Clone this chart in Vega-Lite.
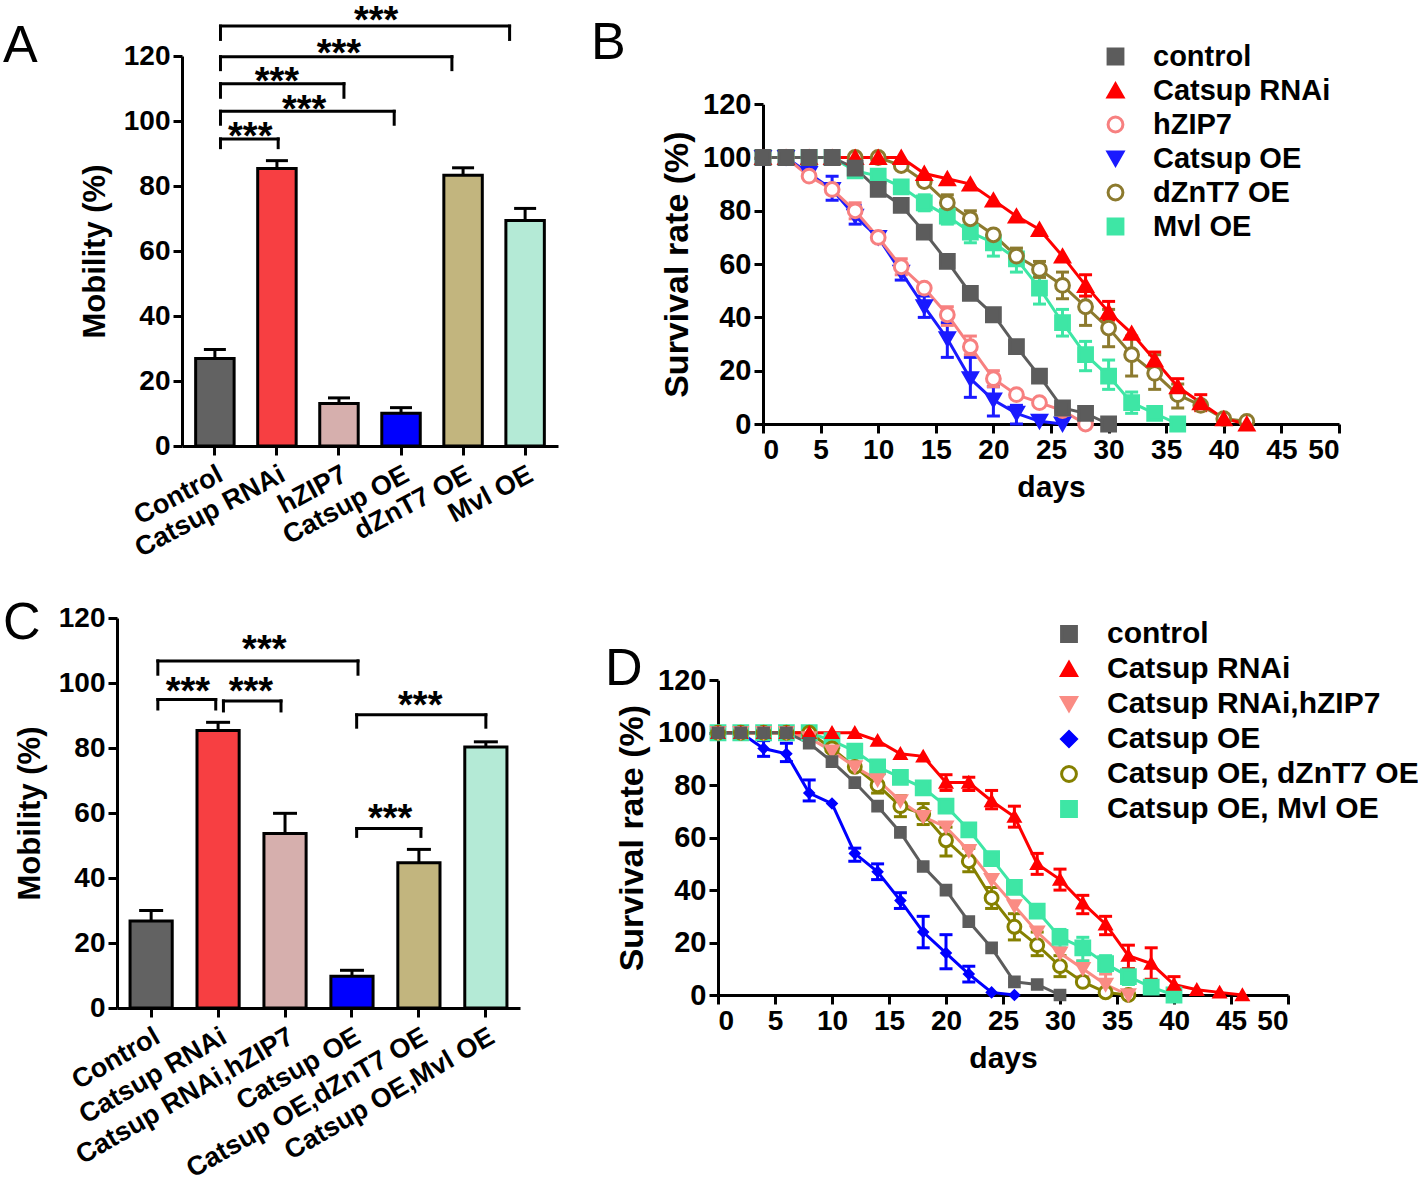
{
  "$schema": "https://vega.github.io/schema/vega-lite/v6.json",
  "padding": {"left": 3, "top": 2, "right": 0, "bottom": 0},
  "background": "white",
  "config": {
    "view": {"stroke": null},
    "font": "Liberation Sans",
    "axis": {"domainColor": "#000", "domainWidth": 3, "tickColor": "#000", "tickWidth": 3, "tickSize": 9, "labelColor": "#000", "labelFontWeight": "bold", "titleColor": "#000", "titleFontWeight": "bold", "grid": false, "labelFont": "Liberation Sans", "titleFont": "Liberation Sans", "labelLimit": 600, "labelPadding": 3},
    "title": {"fontSize": 52, "fontWeight": "normal", "anchor": "start", "frame": "group", "color": "#000", "font": "Liberation Sans", "offset": 0},
    "legend": {"labelFontSize": 29, "labelFontWeight": "bold", "labelColor": "#000", "labelFont": "Liberation Sans", "symbolStrokeWidth": 3, "symbolSize": 220, "rowPadding": 4, "labelLimit": 600, "labelOffset": 23, "padding": 0}
  },
  "resolve": {
    "scale": {"color": "independent", "fill": "independent", "stroke": "independent", "shape": "independent", "size": "independent"},
    "legend": {"color": "independent", "fill": "independent", "stroke": "independent", "shape": "independent", "size": "independent"}
  },
  "datasets": {
    "barsA": [
      {"g": "Control", "m": 26.9, "hi": 29.7},
      {"g": "Catsup RNAi", "m": 85.4, "hi": 87.8},
      {"g": "hZIP7", "m": 13.1, "hi": 14.8},
      {"g": "Catsup OE", "m": 10.1, "hi": 11.8},
      {"g": "dZnT7 OE", "m": 83.3, "hi": 85.6},
      {"g": "Mvl OE", "m": 69.4, "hi": 73.1}
    ],
    "brA": [
      {"x1": 0.09, "x2": 4.75, "h": 129.2, "low": 125.1, "xm": 2.6, "ys": 133.6},
      {"x1": 0.09, "x2": 3.82, "h": 119.8, "low": 115.8, "xm": 2.0, "ys": 123.5},
      {"x1": 0.09, "x2": 2.08, "h": 111.5, "low": 107.3, "xm": 1.0, "ys": 114.7},
      {"x1": 0.09, "x2": 2.89, "h": 103.0, "low": 99.0, "xm": 1.44, "ys": 106.2},
      {"x1": 0.09, "x2": 1.02, "h": 94.5, "low": 91.8, "xm": 0.57, "ys": 97.9}
    ],
    "barsC": [
      {"g": "Control", "m": 26.8, "hi": 30.0},
      {"g": "Catsup RNAi", "m": 85.4, "hi": 87.9},
      {"g": "Catsup RNAi,hZIP7", "m": 53.7, "hi": 59.9},
      {"g": "Catsup OE", "m": 9.8, "hi": 11.6},
      {"g": "Catsup OE,dZnT7 OE", "m": 44.7, "hi": 48.8},
      {"g": "Catsup OE,Mvl OE", "m": 80.3, "hi": 81.9}
    ],
    "brC": [
      {"x1": 0.10, "x2": 3.09, "h": 106.8, "low": 102.7, "xm": 1.69, "ys": 113.0},
      {"x1": 0.10, "x2": 0.965, "h": 94.9, "low": 92.0, "xm": 0.55, "ys": 100.1},
      {"x1": 1.08, "x2": 1.94, "h": 94.5, "low": 91.4, "xm": 1.49, "ys": 100.1},
      {"x1": 3.07, "x2": 5.0, "h": 90.2, "low": 86.4, "xm": 4.02, "ys": 95.7},
      {"x1": 3.07, "x2": 4.03, "h": 55.2, "low": 52.8, "xm": 3.57, "ys": 61.0}
    ],
    "survB": [
      {"s": "Mvl OE", "d": 0, "v": 100}, {"s": "Mvl OE", "d": 2, "v": 100}, {"s": "Mvl OE", "d": 4, "v": 100}, {"s": "Mvl OE", "d": 6, "v": 100},
      {"s": "Mvl OE", "d": 8, "v": 95}, {"s": "Mvl OE", "d": 10, "v": 93}, {"s": "Mvl OE", "d": 12, "v": 89},
      {"s": "Mvl OE", "d": 14, "v": 83, "lo": 80, "hi": 86}, {"s": "Mvl OE", "d": 16, "v": 78, "lo": 75, "hi": 82},
      {"s": "Mvl OE", "d": 18, "v": 72, "lo": 68, "hi": 76}, {"s": "Mvl OE", "d": 20, "v": 68, "lo": 63, "hi": 72},
      {"s": "Mvl OE", "d": 22, "v": 62, "lo": 57, "hi": 65}, {"s": "Mvl OE", "d": 24, "v": 51, "lo": 45, "hi": 56},
      {"s": "Mvl OE", "d": 26, "v": 38, "lo": 33, "hi": 43}, {"s": "Mvl OE", "d": 28, "v": 26, "lo": 20, "hi": 31},
      {"s": "Mvl OE", "d": 30, "v": 18, "lo": 13, "hi": 24}, {"s": "Mvl OE", "d": 32, "v": 8, "lo": 4, "hi": 12},
      {"s": "Mvl OE", "d": 34, "v": 4}, {"s": "Mvl OE", "d": 36, "v": 0},
      {"s": "dZnT7 OE", "d": 0, "v": 100}, {"s": "dZnT7 OE", "d": 2, "v": 100}, {"s": "dZnT7 OE", "d": 4, "v": 100}, {"s": "dZnT7 OE", "d": 6, "v": 100},
      {"s": "dZnT7 OE", "d": 8, "v": 100}, {"s": "dZnT7 OE", "d": 10, "v": 100}, {"s": "dZnT7 OE", "d": 12, "v": 97}, {"s": "dZnT7 OE", "d": 14, "v": 91},
      {"s": "dZnT7 OE", "d": 16, "v": 83, "lo": 80, "hi": 86}, {"s": "dZnT7 OE", "d": 18, "v": 77, "lo": 74, "hi": 80},
      {"s": "dZnT7 OE", "d": 20, "v": 71}, {"s": "dZnT7 OE", "d": 22, "v": 63, "lo": 60, "hi": 66},
      {"s": "dZnT7 OE", "d": 24, "v": 58, "lo": 55, "hi": 61}, {"s": "dZnT7 OE", "d": 26, "v": 52, "lo": 47, "hi": 57},
      {"s": "dZnT7 OE", "d": 28, "v": 44, "lo": 37, "hi": 50}, {"s": "dZnT7 OE", "d": 30, "v": 36, "lo": 29, "hi": 43},
      {"s": "dZnT7 OE", "d": 32, "v": 26, "lo": 18, "hi": 33}, {"s": "dZnT7 OE", "d": 34, "v": 19, "lo": 13, "hi": 26},
      {"s": "dZnT7 OE", "d": 36, "v": 11, "lo": 6, "hi": 15}, {"s": "dZnT7 OE", "d": 38, "v": 7},
      {"s": "dZnT7 OE", "d": 40, "v": 2}, {"s": "dZnT7 OE", "d": 42, "v": 1},
      {"s": "Catsup OE", "d": 0, "v": 100}, {"s": "Catsup OE", "d": 2, "v": 100}, {"s": "Catsup OE", "d": 4, "v": 94},
      {"s": "Catsup OE", "d": 6, "v": 88, "lo": 84, "hi": 93}, {"s": "Catsup OE", "d": 8, "v": 78, "lo": 75, "hi": 82},
      {"s": "Catsup OE", "d": 10, "v": 70}, {"s": "Catsup OE", "d": 12, "v": 57, "lo": 54, "hi": 60},
      {"s": "Catsup OE", "d": 14, "v": 44, "lo": 40, "hi": 48}, {"s": "Catsup OE", "d": 16, "v": 32, "lo": 25, "hi": 38},
      {"s": "Catsup OE", "d": 18, "v": 17, "lo": 10, "hi": 25}, {"s": "Catsup OE", "d": 20, "v": 9, "lo": 3, "hi": 14},
      {"s": "Catsup OE", "d": 22, "v": 4, "lo": 0, "hi": 7}, {"s": "Catsup OE", "d": 24, "v": 1}, {"s": "Catsup OE", "d": 26, "v": 0},
      {"s": "hZIP7", "d": 0, "v": 100}, {"s": "hZIP7", "d": 2, "v": 100}, {"s": "hZIP7", "d": 4, "v": 93}, {"s": "hZIP7", "d": 6, "v": 88},
      {"s": "hZIP7", "d": 8, "v": 80, "lo": 77, "hi": 83}, {"s": "hZIP7", "d": 10, "v": 70}, {"s": "hZIP7", "d": 12, "v": 59, "lo": 56, "hi": 62},
      {"s": "hZIP7", "d": 14, "v": 51}, {"s": "hZIP7", "d": 16, "v": 41, "lo": 37, "hi": 44}, {"s": "hZIP7", "d": 18, "v": 29, "lo": 26, "hi": 33},
      {"s": "hZIP7", "d": 20, "v": 17, "lo": 14, "hi": 20}, {"s": "hZIP7", "d": 22, "v": 11}, {"s": "hZIP7", "d": 24, "v": 8},
      {"s": "hZIP7", "d": 26, "v": 5}, {"s": "hZIP7", "d": 28, "v": 0},
      {"s": "Catsup RNAi", "d": 0, "v": 100}, {"s": "Catsup RNAi", "d": 2, "v": 100}, {"s": "Catsup RNAi", "d": 4, "v": 100}, {"s": "Catsup RNAi", "d": 6, "v": 100},
      {"s": "Catsup RNAi", "d": 8, "v": 100}, {"s": "Catsup RNAi", "d": 10, "v": 100}, {"s": "Catsup RNAi", "d": 12, "v": 100}, {"s": "Catsup RNAi", "d": 14, "v": 94},
      {"s": "Catsup RNAi", "d": 16, "v": 92}, {"s": "Catsup RNAi", "d": 18, "v": 90}, {"s": "Catsup RNAi", "d": 20, "v": 84}, {"s": "Catsup RNAi", "d": 22, "v": 78},
      {"s": "Catsup RNAi", "d": 24, "v": 73}, {"s": "Catsup RNAi", "d": 26, "v": 63}, {"s": "Catsup RNAi", "d": 28, "v": 52, "lo": 48, "hi": 56},
      {"s": "Catsup RNAi", "d": 30, "v": 42, "lo": 39, "hi": 46}, {"s": "Catsup RNAi", "d": 32, "v": 34},
      {"s": "Catsup RNAi", "d": 34, "v": 24, "lo": 21, "hi": 27}, {"s": "Catsup RNAi", "d": 36, "v": 14, "lo": 11, "hi": 17},
      {"s": "Catsup RNAi", "d": 38, "v": 8, "lo": 5, "hi": 11}, {"s": "Catsup RNAi", "d": 40, "v": 2}, {"s": "Catsup RNAi", "d": 42, "v": 0},
      {"s": "control", "d": 0, "v": 100}, {"s": "control", "d": 2, "v": 100}, {"s": "control", "d": 4, "v": 100}, {"s": "control", "d": 6, "v": 100},
      {"s": "control", "d": 8, "v": 96}, {"s": "control", "d": 10, "v": 88}, {"s": "control", "d": 12, "v": 82}, {"s": "control", "d": 14, "v": 72},
      {"s": "control", "d": 16, "v": 61}, {"s": "control", "d": 18, "v": 49}, {"s": "control", "d": 20, "v": 41}, {"s": "control", "d": 22, "v": 29},
      {"s": "control", "d": 24, "v": 18}, {"s": "control", "d": 26, "v": 6}, {"s": "control", "d": 28, "v": 4}, {"s": "control", "d": 30, "v": 0}
    ],
    "survD": [
      {"s": "Catsup OE, Mvl OE", "d": 0, "v": 100}, {"s": "Catsup OE, Mvl OE", "d": 2, "v": 100}, {"s": "Catsup OE, Mvl OE", "d": 4, "v": 100},
      {"s": "Catsup OE, Mvl OE", "d": 6, "v": 100}, {"s": "Catsup OE, Mvl OE", "d": 8, "v": 100}, {"s": "Catsup OE, Mvl OE", "d": 10, "v": 97},
      {"s": "Catsup OE, Mvl OE", "d": 12, "v": 93}, {"s": "Catsup OE, Mvl OE", "d": 14, "v": 87}, {"s": "Catsup OE, Mvl OE", "d": 16, "v": 83},
      {"s": "Catsup OE, Mvl OE", "d": 18, "v": 79}, {"s": "Catsup OE, Mvl OE", "d": 20, "v": 72}, {"s": "Catsup OE, Mvl OE", "d": 22, "v": 63},
      {"s": "Catsup OE, Mvl OE", "d": 24, "v": 52}, {"s": "Catsup OE, Mvl OE", "d": 26, "v": 41}, {"s": "Catsup OE, Mvl OE", "d": 28, "v": 32},
      {"s": "Catsup OE, Mvl OE", "d": 30, "v": 22, "lo": 18, "hi": 25}, {"s": "Catsup OE, Mvl OE", "d": 32, "v": 18, "lo": 13, "hi": 22},
      {"s": "Catsup OE, Mvl OE", "d": 34, "v": 12, "lo": 9, "hi": 15}, {"s": "Catsup OE, Mvl OE", "d": 36, "v": 7, "lo": 4, "hi": 10},
      {"s": "Catsup OE, Mvl OE", "d": 38, "v": 3}, {"s": "Catsup OE, Mvl OE", "d": 40, "v": 0},
      {"s": "Catsup OE, dZnT7 OE", "d": 0, "v": 100}, {"s": "Catsup OE, dZnT7 OE", "d": 2, "v": 100}, {"s": "Catsup OE, dZnT7 OE", "d": 4, "v": 100},
      {"s": "Catsup OE, dZnT7 OE", "d": 6, "v": 100}, {"s": "Catsup OE, dZnT7 OE", "d": 8, "v": 100}, {"s": "Catsup OE, dZnT7 OE", "d": 10, "v": 94},
      {"s": "Catsup OE, dZnT7 OE", "d": 12, "v": 87}, {"s": "Catsup OE, dZnT7 OE", "d": 14, "v": 80, "lo": 77, "hi": 84},
      {"s": "Catsup OE, dZnT7 OE", "d": 16, "v": 72, "lo": 68, "hi": 76}, {"s": "Catsup OE, dZnT7 OE", "d": 18, "v": 69, "lo": 65, "hi": 73},
      {"s": "Catsup OE, dZnT7 OE", "d": 20, "v": 59, "lo": 53, "hi": 64}, {"s": "Catsup OE, dZnT7 OE", "d": 22, "v": 51, "lo": 47, "hi": 56},
      {"s": "Catsup OE, dZnT7 OE", "d": 24, "v": 37, "lo": 33, "hi": 41}, {"s": "Catsup OE, dZnT7 OE", "d": 26, "v": 26, "lo": 21, "hi": 31},
      {"s": "Catsup OE, dZnT7 OE", "d": 28, "v": 19, "lo": 15, "hi": 24}, {"s": "Catsup OE, dZnT7 OE", "d": 30, "v": 11, "lo": 7, "hi": 15},
      {"s": "Catsup OE, dZnT7 OE", "d": 32, "v": 5}, {"s": "Catsup OE, dZnT7 OE", "d": 34, "v": 1}, {"s": "Catsup OE, dZnT7 OE", "d": 36, "v": 0},
      {"s": "Catsup OE", "d": 0, "v": 100}, {"s": "Catsup OE", "d": 2, "v": 100},
      {"s": "Catsup OE", "d": 4, "v": 94, "lo": 91, "hi": 97}, {"s": "Catsup OE", "d": 6, "v": 92, "lo": 89, "hi": 96},
      {"s": "Catsup OE", "d": 8, "v": 77, "lo": 74, "hi": 82}, {"s": "Catsup OE", "d": 10, "v": 73},
      {"s": "Catsup OE", "d": 12, "v": 54, "lo": 51, "hi": 56}, {"s": "Catsup OE", "d": 14, "v": 47, "lo": 44, "hi": 50},
      {"s": "Catsup OE", "d": 16, "v": 36, "lo": 33, "hi": 39}, {"s": "Catsup OE", "d": 18, "v": 24, "lo": 18, "hi": 30},
      {"s": "Catsup OE", "d": 20, "v": 16, "lo": 10, "hi": 23}, {"s": "Catsup OE", "d": 22, "v": 8, "lo": 5, "hi": 11},
      {"s": "Catsup OE", "d": 24, "v": 1}, {"s": "Catsup OE", "d": 26, "v": 0},
      {"s": "Catsup RNAi,hZIP7", "d": 0, "v": 100}, {"s": "Catsup RNAi,hZIP7", "d": 2, "v": 100}, {"s": "Catsup RNAi,hZIP7", "d": 4, "v": 100},
      {"s": "Catsup RNAi,hZIP7", "d": 6, "v": 100}, {"s": "Catsup RNAi,hZIP7", "d": 8, "v": 98}, {"s": "Catsup RNAi,hZIP7", "d": 10, "v": 93},
      {"s": "Catsup RNAi,hZIP7", "d": 12, "v": 87}, {"s": "Catsup RNAi,hZIP7", "d": 14, "v": 82}, {"s": "Catsup RNAi,hZIP7", "d": 16, "v": 74},
      {"s": "Catsup RNAi,hZIP7", "d": 18, "v": 68}, {"s": "Catsup RNAi,hZIP7", "d": 20, "v": 64}, {"s": "Catsup RNAi,hZIP7", "d": 22, "v": 55},
      {"s": "Catsup RNAi,hZIP7", "d": 24, "v": 44}, {"s": "Catsup RNAi,hZIP7", "d": 26, "v": 34}, {"s": "Catsup RNAi,hZIP7", "d": 28, "v": 24},
      {"s": "Catsup RNAi,hZIP7", "d": 30, "v": 16}, {"s": "Catsup RNAi,hZIP7", "d": 32, "v": 10, "lo": 7, "hi": 13},
      {"s": "Catsup RNAi,hZIP7", "d": 34, "v": 4, "lo": 0, "hi": 8}, {"s": "Catsup RNAi,hZIP7", "d": 36, "v": 0},
      {"s": "Catsup RNAi", "d": 0, "v": 100}, {"s": "Catsup RNAi", "d": 2, "v": 100}, {"s": "Catsup RNAi", "d": 4, "v": 100}, {"s": "Catsup RNAi", "d": 6, "v": 100},
      {"s": "Catsup RNAi", "d": 8, "v": 100}, {"s": "Catsup RNAi", "d": 10, "v": 100}, {"s": "Catsup RNAi", "d": 12, "v": 100}, {"s": "Catsup RNAi", "d": 14, "v": 97},
      {"s": "Catsup RNAi", "d": 16, "v": 92}, {"s": "Catsup RNAi", "d": 18, "v": 91},
      {"s": "Catsup RNAi", "d": 20, "v": 81, "lo": 78, "hi": 84}, {"s": "Catsup RNAi", "d": 22, "v": 81, "lo": 78, "hi": 83},
      {"s": "Catsup RNAi", "d": 24, "v": 74, "lo": 71, "hi": 78}, {"s": "Catsup RNAi", "d": 26, "v": 68, "lo": 64, "hi": 72},
      {"s": "Catsup RNAi", "d": 28, "v": 50, "lo": 46, "hi": 54}, {"s": "Catsup RNAi", "d": 30, "v": 44, "lo": 40, "hi": 48},
      {"s": "Catsup RNAi", "d": 32, "v": 35, "lo": 31, "hi": 38}, {"s": "Catsup RNAi", "d": 34, "v": 27, "lo": 23, "hi": 30},
      {"s": "Catsup RNAi", "d": 36, "v": 15, "lo": 10, "hi": 19}, {"s": "Catsup RNAi", "d": 38, "v": 12, "lo": 6, "hi": 18},
      {"s": "Catsup RNAi", "d": 40, "v": 4, "lo": 0, "hi": 7}, {"s": "Catsup RNAi", "d": 42, "v": 2}, {"s": "Catsup RNAi", "d": 44, "v": 1}, {"s": "Catsup RNAi", "d": 46, "v": 0},
      {"s": "control", "d": 0, "v": 100}, {"s": "control", "d": 2, "v": 100}, {"s": "control", "d": 4, "v": 100}, {"s": "control", "d": 6, "v": 100},
      {"s": "control", "d": 8, "v": 96}, {"s": "control", "d": 10, "v": 89}, {"s": "control", "d": 12, "v": 81}, {"s": "control", "d": 14, "v": 72},
      {"s": "control", "d": 16, "v": 62}, {"s": "control", "d": 18, "v": 49}, {"s": "control", "d": 20, "v": 40}, {"s": "control", "d": 22, "v": 28},
      {"s": "control", "d": 24, "v": 18}, {"s": "control", "d": 26, "v": 5}, {"s": "control", "d": 28, "v": 4}, {"s": "control", "d": 30, "v": 0}
    ]
  },
  "vconcat": [
    {
      "spacing": 33,
      "resolve": {
        "scale": {"color": "independent", "fill": "independent", "stroke": "independent", "shape": "independent", "size": "independent"},
        "legend": {"color": "independent", "fill": "independent", "stroke": "independent", "shape": "independent", "size": "independent"}
      },
      "hconcat": [
        {
          "width": 441, "height": 390,
          "title": {"text": "A", "dx": -114, "dy": 74},
          "layer": [
            {
              "data": {"name": "barsA"},
              "encoding": {
                "x": {"field": "g", "type": "nominal", "sort": null, "title": null,
                      "scale": {"paddingInner": 0.38, "paddingOuter": 0.22, "range": [65, 441]},
                      "axis": {"labelAngle": -28, "labelAlign": "right", "labelBaseline": "top", "labelFontSize": 27, "labelPadding": 6}}
              },
              "layer": [
                {"mark": {"type": "bar", "stroke": "#000", "strokeWidth": 3},
                 "encoding": {
                   "y": {"field": "m", "type": "quantitative", "scale": {"domain": [0, 120], "nice": false},
                         "axis": {"values": [0, 20, 40, 60, 80, 100, 120], "title": "Mobility (%)", "titleFontSize": 31, "labelFontSize": 28, "titlePadding": 12, "offset": -65}},
                   "fill": {"field": "g", "type": "nominal", "sort": null, "legend": null,
                            "scale": {"domain": ["Control", "Catsup RNAi", "hZIP7", "Catsup OE", "dZnT7 OE", "Mvl OE"],
                                      "range": ["#626262", "#f73f42", "#d6afad", "#0000fe", "#c2b57e", "#b4ead6"]}}
                 }},
                {"mark": {"type": "rule", "stroke": "#000", "strokeWidth": 3},
                 "encoding": {"y": {"field": "m", "type": "quantitative", "axis": {"values": [0, 20, 40, 60, 80, 100, 120], "title": "Mobility (%)", "titleFontSize": 31, "labelFontSize": 28, "titlePadding": 12, "offset": -65}}, "y2": {"field": "hi"}}},
                {"mark": {"type": "tick", "color": "#000", "thickness": 3, "size": 22, "orient": "horizontal", "opacity": 1},
                 "encoding": {"y": {"field": "hi", "type": "quantitative", "axis": {"values": [0, 20, 40, 60, 80, 100, 120], "title": "Mobility (%)", "titleFontSize": 31, "labelFontSize": 28, "titlePadding": 12, "offset": -65}}}}
              ]
            },
            {
              "data": {"name": "brA"},
              "layer": [
                {"mark": {"type": "rule", "stroke": "#000", "strokeWidth": 3, "strokeCap": "square"},
                 "encoding": {"x": {"field": "x1", "type": "quantitative", "scale": {"domain": [-0.53, 5.53], "nice": false, "zero": false, "range": [65, 441]}, "axis": null},
                              "x2": {"field": "x2"}, "y": {"field": "h", "type": "quantitative", "axis": {"values": [0, 20, 40, 60, 80, 100, 120], "title": "Mobility (%)", "titleFontSize": 31, "labelFontSize": 28, "titlePadding": 12, "offset": -65}}}},
                {"mark": {"type": "rule", "stroke": "#000", "strokeWidth": 3, "strokeCap": "square"},
                 "encoding": {"x": {"field": "x1", "type": "quantitative", "axis": null}, "y": {"field": "low", "type": "quantitative", "axis": {"values": [0, 20, 40, 60, 80, 100, 120], "title": "Mobility (%)", "titleFontSize": 31, "labelFontSize": 28, "titlePadding": 12, "offset": -65}}, "y2": {"field": "h"}}},
                {"mark": {"type": "rule", "stroke": "#000", "strokeWidth": 3, "strokeCap": "square"},
                 "encoding": {"x": {"field": "x2", "type": "quantitative", "axis": null}, "y": {"field": "low", "type": "quantitative", "axis": {"values": [0, 20, 40, 60, 80, 100, 120], "title": "Mobility (%)", "titleFontSize": 31, "labelFontSize": 28, "titlePadding": 12, "offset": -65}}, "y2": {"field": "h"}}},
                {"mark": {"type": "text", "fontSize": 38, "fontWeight": "bold", "baseline": "alphabetic", "dy": 21, "color": "#000"},
                 "encoding": {"x": {"field": "xm", "type": "quantitative", "axis": null}, "y": {"field": "ys", "type": "quantitative", "axis": {"values": [0, 20, 40, 60, 80, 100, 120], "title": "Mobility (%)", "titleFontSize": 31, "labelFontSize": 28, "titlePadding": 12, "offset": -65}}, "text": {"value": "***"}}}
              ]
            }
          ],
          "resolve": {"scale": {"x": "independent"}}
        },
        {
          "width": 576, "height": 368,
          "title": {"text": "B", "dx": -172, "dy": 32},
          "data": {"name": "survB"},
          "encoding": {
            "x": {"field": "d", "type": "quantitative", "scale": {"domain": [0, 50], "nice": false},
                  "axis": {"values": [0, 5, 10, 15, 20, 25, 30, 35, 40, 45, 50], "title": "days", "titleFontSize": 30, "labelFontSize": 28, "titlePadding": 8}}
          },
          "layer": [
            {"mark": {"type": "rule", "strokeWidth": 3},
             "encoding": {"y": {"field": "lo", "type": "quantitative", "scale": {"domain": [0, 120], "range": [368, 48.2], "nice": false}, "axis": {"values": [0, 20, 40, 60, 80, 100, 120], "title": "Survival rate (%)", "titleFontSize": 34, "labelFontSize": 29, "titlePadding": 8}}, "y2": {"field": "hi"},
                          "color": {"field": "s", "type": "nominal", "legend": null, "scale": {"domain": ["Mvl OE", "dZnT7 OE", "Catsup OE", "hZIP7", "Catsup RNAi", "control"], "range": ["#3ee6a5", "#8c7a2e", "#1a1aff", "#f78080", "#ff0000", "#5c5c5c"]}}}},
            {"mark": {"type": "tick", "thickness": 3, "size": 13, "orient": "horizontal", "opacity": 1},
             "encoding": {"y": {"field": "hi", "type": "quantitative", "axis": {"values": [0, 20, 40, 60, 80, 100, 120], "title": "Survival rate (%)", "titleFontSize": 34, "labelFontSize": 29, "titlePadding": 8}}, "color": {"field": "s", "type": "nominal", "legend": null}}},
            {"mark": {"type": "tick", "thickness": 3, "size": 13, "orient": "horizontal", "opacity": 1},
             "encoding": {"y": {"field": "lo", "type": "quantitative", "axis": {"values": [0, 20, 40, 60, 80, 100, 120], "title": "Survival rate (%)", "titleFontSize": 34, "labelFontSize": 29, "titlePadding": 8}}, "color": {"field": "s", "type": "nominal", "legend": null}}},
            {"mark": {"type": "line", "strokeWidth": 3},
             "encoding": {"y": {"field": "v", "type": "quantitative", "axis": {"values": [0, 20, 40, 60, 80, 100, 120], "title": "Survival rate (%)", "titleFontSize": 34, "labelFontSize": 29, "titlePadding": 8}},
                          "color": {"field": "s", "type": "nominal", "legend": null}}},
            {"mark": {"type": "point", "strokeWidth": 3, "opacity": 1, "size": 190},
             "encoding": {"y": {"field": "v", "type": "quantitative", "axis": {"values": [0, 20, 40, 60, 80, 100, 120], "title": "Survival rate (%)", "titleFontSize": 34, "labelFontSize": 29, "titlePadding": 8}},
                          "stroke": {"field": "s", "type": "nominal", "title": null,
                                     "scale": {"domain": ["control", "Catsup RNAi", "hZIP7", "Catsup OE", "dZnT7 OE", "Mvl OE"], "range": ["#5c5c5c", "#ff0000", "#f78080", "#1a1aff", "#8c7a2e", "#3ee6a5"]},
                                     "legend": {"orient": "none", "legendX": 338, "legendY": -14}},
                          "fill": {"field": "s", "type": "nominal", "title": null,
                                   "scale": {"domain": ["control", "Catsup RNAi", "hZIP7", "Catsup OE", "dZnT7 OE", "Mvl OE"], "range": ["#5c5c5c", "#ff0000", "#ffffff", "#1a1aff", "#ffffff", "#3ee6a5"]},
                                   "legend": {"orient": "none", "legendX": 338, "legendY": -14}},
                          "shape": {"field": "s", "type": "nominal", "title": null,
                                    "scale": {"domain": ["control", "Catsup RNAi", "hZIP7", "Catsup OE", "dZnT7 OE", "Mvl OE"], "range": ["square", "triangle-up", "circle", "triangle-down", "circle", "square"]},
                                    "legend": {"orient": "none", "legendX": 338, "legendY": -14}}}}
          ]
        }
      ]
    },
    {
      "spacing": 85,
      "resolve": {
        "scale": {"color": "independent", "fill": "independent", "stroke": "independent", "shape": "independent", "size": "independent"},
        "legend": {"color": "independent", "fill": "independent", "stroke": "independent", "shape": "independent", "size": "independent"}
      },
      "hconcat": [
        {
          "width": 403, "height": 390,
          "title": {"text": "C", "dx": -114, "dy": 50},
          "layer": [
            {
              "data": {"name": "barsC"},
              "encoding": {
                "x": {"field": "g", "type": "nominal", "sort": null, "title": null,
                      "scale": {"paddingInner": 0.37, "paddingOuter": 0.195},
                      "axis": {"labelAngle": -30, "labelAlign": "right", "labelBaseline": "top", "labelFontSize": 27, "labelPadding": 6}}
              },
              "layer": [
                {"mark": {"type": "bar", "stroke": "#000", "strokeWidth": 3},
                 "encoding": {
                   "y": {"field": "m", "type": "quantitative", "scale": {"domain": [0, 120], "nice": false},
                         "axis": {"values": [0, 20, 40, 60, 80, 100, 120], "title": "Mobility (%)", "titleFontSize": 31, "labelFontSize": 28, "titlePadding": 12}},
                   "fill": {"field": "g", "type": "nominal", "sort": null, "legend": null,
                            "scale": {"domain": ["Control", "Catsup RNAi", "Catsup RNAi,hZIP7", "Catsup OE", "Catsup OE,dZnT7 OE", "Catsup OE,Mvl OE"],
                                      "range": ["#626262", "#f73f42", "#d6afad", "#0000fe", "#c2b57e", "#b4ead6"]}}
                 }},
                {"mark": {"type": "rule", "stroke": "#000", "strokeWidth": 3},
                 "encoding": {"y": {"field": "m", "type": "quantitative", "axis": {"values": [0, 20, 40, 60, 80, 100, 120], "title": "Mobility (%)", "titleFontSize": 31, "labelFontSize": 28, "titlePadding": 12}}, "y2": {"field": "hi"}}},
                {"mark": {"type": "tick", "color": "#000", "thickness": 3, "size": 24, "orient": "horizontal", "opacity": 1},
                 "encoding": {"y": {"field": "hi", "type": "quantitative", "axis": {"values": [0, 20, 40, 60, 80, 100, 120], "title": "Mobility (%)", "titleFontSize": 31, "labelFontSize": 28, "titlePadding": 12}}}}
              ]
            },
            {
              "data": {"name": "brC"},
              "layer": [
                {"mark": {"type": "rule", "stroke": "#000", "strokeWidth": 3, "strokeCap": "square"},
                 "encoding": {"x": {"field": "x1", "type": "quantitative", "scale": {"domain": [-0.51, 5.51], "nice": false, "zero": false}, "axis": null},
                              "x2": {"field": "x2"}, "y": {"field": "h", "type": "quantitative", "axis": {"values": [0, 20, 40, 60, 80, 100, 120], "title": "Mobility (%)", "titleFontSize": 31, "labelFontSize": 28, "titlePadding": 12}}}},
                {"mark": {"type": "rule", "stroke": "#000", "strokeWidth": 3, "strokeCap": "square"},
                 "encoding": {"x": {"field": "x1", "type": "quantitative", "axis": null}, "y": {"field": "low", "type": "quantitative", "axis": {"values": [0, 20, 40, 60, 80, 100, 120], "title": "Mobility (%)", "titleFontSize": 31, "labelFontSize": 28, "titlePadding": 12}}, "y2": {"field": "h"}}},
                {"mark": {"type": "rule", "stroke": "#000", "strokeWidth": 3, "strokeCap": "square"},
                 "encoding": {"x": {"field": "x2", "type": "quantitative", "axis": null}, "y": {"field": "low", "type": "quantitative", "axis": {"values": [0, 20, 40, 60, 80, 100, 120], "title": "Mobility (%)", "titleFontSize": 31, "labelFontSize": 28, "titlePadding": 12}}, "y2": {"field": "h"}}},
                {"mark": {"type": "text", "fontSize": 38, "fontWeight": "bold", "baseline": "alphabetic", "dy": 21, "color": "#000"},
                 "encoding": {"x": {"field": "xm", "type": "quantitative", "axis": null}, "y": {"field": "ys", "type": "quantitative", "axis": {"values": [0, 20, 40, 60, 80, 100, 120], "title": "Mobility (%)", "titleFontSize": 31, "labelFontSize": 28, "titlePadding": 12}}, "text": {"value": "***"}}}
              ]
            }
          ],
          "resolve": {"scale": {"x": "independent"}}
        },
        {
          "width": 570, "height": 377,
          "title": {"text": "D", "dx": -113, "dy": 82},
          "data": {"name": "survD"},
          "encoding": {
            "x": {"field": "d", "type": "quantitative", "scale": {"domain": [0, 50], "nice": false},
                  "axis": {"values": [0, 5, 10, 15, 20, 25, 30, 35, 40, 45, 50], "title": "days", "titleFontSize": 30, "labelFontSize": 28, "titlePadding": 8}}
          },
          "layer": [
            {"mark": {"type": "rule", "strokeWidth": 3},
             "encoding": {"y": {"field": "lo", "type": "quantitative", "scale": {"domain": [0, 120], "range": [377, 62.3], "nice": false}, "axis": {"values": [0, 20, 40, 60, 80, 100, 120], "title": "Survival rate (%)", "titleFontSize": 34, "labelFontSize": 29, "titlePadding": 8}}, "y2": {"field": "hi"},
                          "color": {"field": "s", "type": "nominal", "legend": null, "scale": {"domain": ["Catsup OE, Mvl OE", "Catsup OE, dZnT7 OE", "Catsup OE", "Catsup RNAi,hZIP7", "Catsup RNAi", "control"], "range": ["#3ee6a5", "#858000", "#0000ff", "#fa8c84", "#ff0000", "#5c5c5c"]}}}},
            {"mark": {"type": "tick", "thickness": 3, "size": 13, "orient": "horizontal", "opacity": 1},
             "encoding": {"y": {"field": "hi", "type": "quantitative", "axis": {"values": [0, 20, 40, 60, 80, 100, 120], "title": "Survival rate (%)", "titleFontSize": 34, "labelFontSize": 29, "titlePadding": 8}}, "color": {"field": "s", "type": "nominal", "legend": null}}},
            {"mark": {"type": "tick", "thickness": 3, "size": 13, "orient": "horizontal", "opacity": 1},
             "encoding": {"y": {"field": "lo", "type": "quantitative", "axis": {"values": [0, 20, 40, 60, 80, 100, 120], "title": "Survival rate (%)", "titleFontSize": 34, "labelFontSize": 29, "titlePadding": 8}}, "color": {"field": "s", "type": "nominal", "legend": null}}},
            {"mark": {"type": "line", "strokeWidth": 3},
             "encoding": {"y": {"field": "v", "type": "quantitative", "axis": {"values": [0, 20, 40, 60, 80, 100, 120], "title": "Survival rate (%)", "titleFontSize": 34, "labelFontSize": 29, "titlePadding": 8}},
                          "color": {"field": "s", "type": "nominal", "legend": null}}},
            {"mark": {"type": "point", "strokeWidth": 3, "opacity": 1},
             "encoding": {"y": {"field": "v", "type": "quantitative", "axis": {"values": [0, 20, 40, 60, 80, 100, 120], "title": "Survival rate (%)", "titleFontSize": 34, "labelFontSize": 29, "titlePadding": 8}},
                          "size": {"field": "s", "type": "nominal", "legend": null, "scale": {"domain": ["Catsup OE", "control", "Catsup RNAi", "Catsup RNAi,hZIP7", "Catsup OE, dZnT7 OE", "Catsup OE, Mvl OE"], "range": [70, 190, 190, 190, 190, 190]}},
                          "stroke": {"field": "s", "type": "nominal", "title": null,
                                     "scale": {"domain": ["control", "Catsup RNAi", "Catsup RNAi,hZIP7", "Catsup OE", "Catsup OE, dZnT7 OE", "Catsup OE, Mvl OE"], "range": ["#5c5c5c", "#ff0000", "#fa8c84", "#0000ff", "#858000", "#3ee6a5"]},
                                     "legend": {"orient": "none", "legendX": 336, "legendY": 1, "labelFontSize": 30, "rowPadding": 5}},
                          "fill": {"field": "s", "type": "nominal", "title": null,
                                   "scale": {"domain": ["control", "Catsup RNAi", "Catsup RNAi,hZIP7", "Catsup OE", "Catsup OE, dZnT7 OE", "Catsup OE, Mvl OE"], "range": ["#5c5c5c", "#ff0000", "#fa8c84", "#0000ff", "#ffffff", "#3ee6a5"]},
                                   "legend": {"orient": "none", "legendX": 336, "legendY": 1, "labelFontSize": 30, "rowPadding": 5}},
                          "shape": {"field": "s", "type": "nominal", "title": null,
                                    "scale": {"domain": ["control", "Catsup RNAi", "Catsup RNAi,hZIP7", "Catsup OE", "Catsup OE, dZnT7 OE", "Catsup OE, Mvl OE"], "range": ["square", "triangle-up", "triangle-down", "diamond", "circle", "square"]},
                                    "legend": {"orient": "none", "legendX": 336, "legendY": 1, "labelFontSize": 30, "rowPadding": 5}}}}
          ]
        }
      ]
    }
  ],
  "spacing": 35
}
